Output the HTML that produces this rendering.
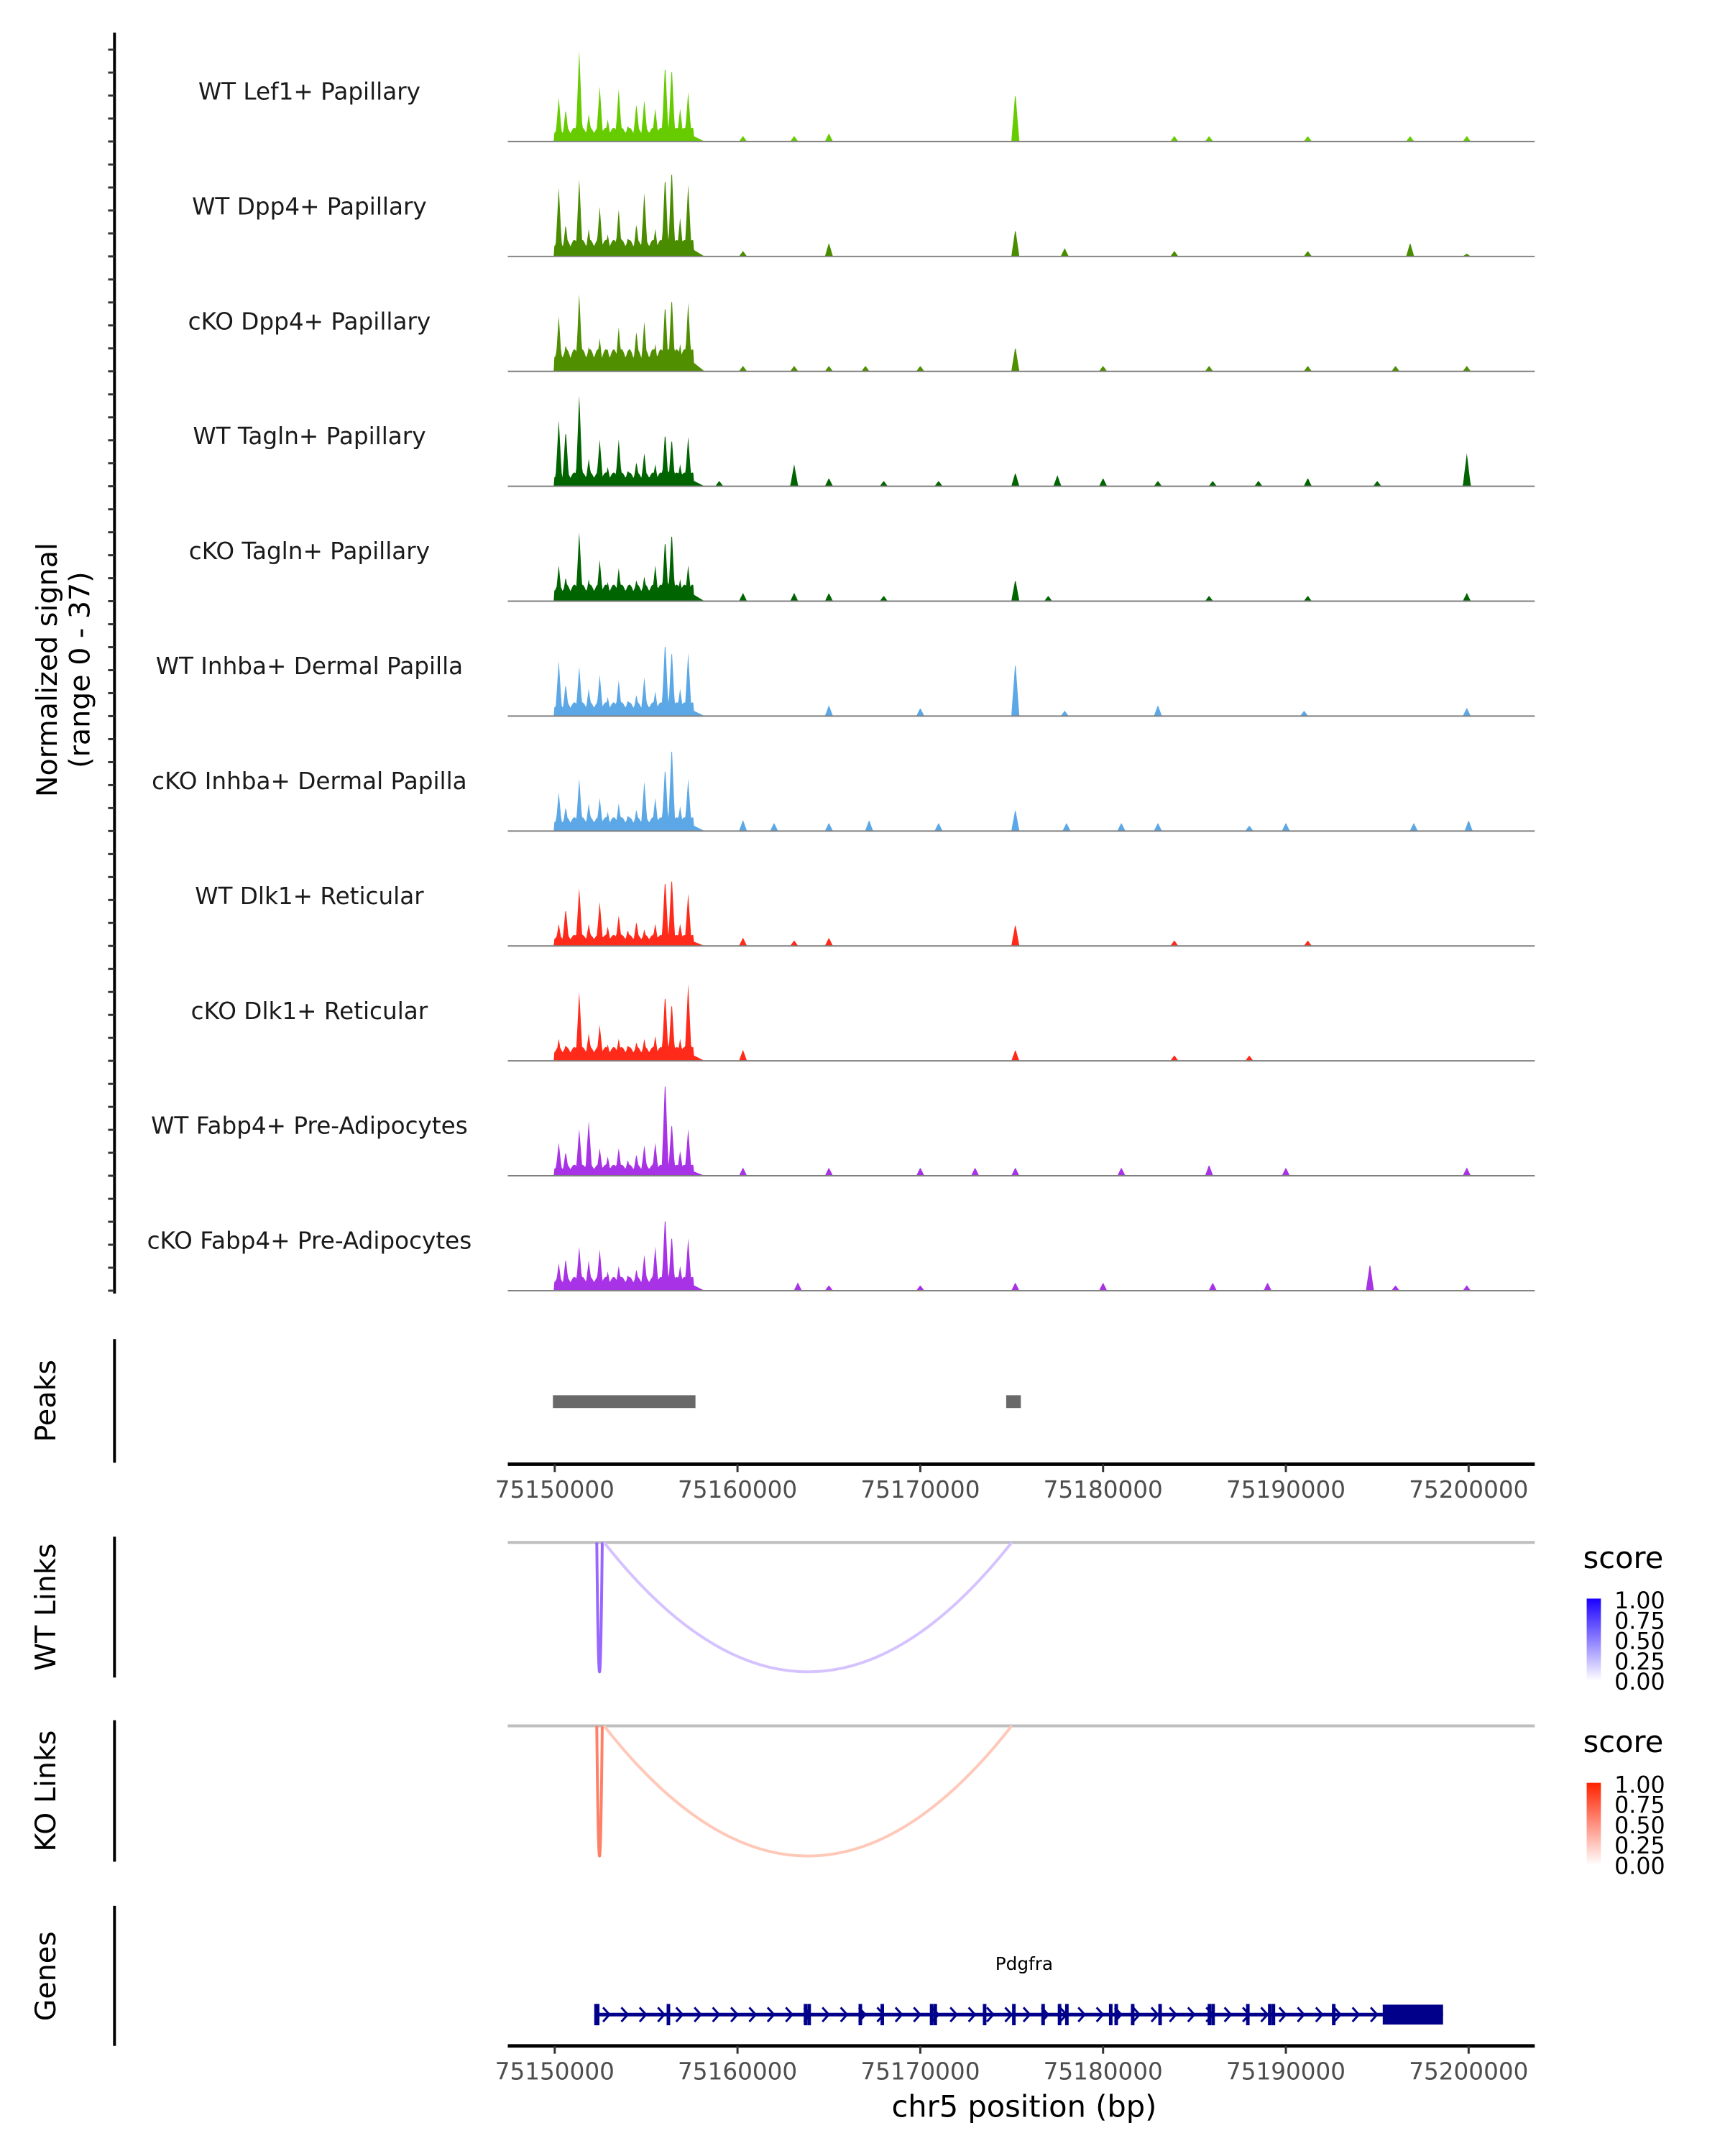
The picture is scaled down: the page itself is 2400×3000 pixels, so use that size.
<!DOCTYPE html>
<html><head><meta charset="utf-8"><style>
html,body{margin:0;padding:0;background:#fff}
svg{display:block}
text{font-family:"DejaVu Sans","Liberation Sans",sans-serif}
</style></head><body>
<svg id="chart" width="2400" height="3000" viewBox="0 0 2400 3000" xmlns="http://www.w3.org/2000/svg">
<g transform="scale(0.9895)">
<g id="tracks"></g>
<g id="peaks"></g>
<g id="links"></g>
<g id="genes"></g>
</g>
</svg>
<script>
const NS="http://www.w3.org/2000/svg";
const trackNames=["WT Lef1+ Papillary","WT Dpp4+ Papillary","cKO Dpp4+ Papillary","WT Tagln+ Papillary","cKO Tagln+ Papillary","WT Inhba+ Dermal Papilla","cKO Inhba+ Dermal Papilla","WT Dlk1+ Reticular","cKO Dlk1+ Reticular","WT Fabp4+ Pre-Adipocytes","cKO Fabp4+ Pre-Adipocytes"];
const trackColors=["#66cc00","#4a8c00","#4f8f00","#006400","#006400","#5ca8e6","#5ca8e6","#ff2a1a","#ff2a1a","#a832e6","#a832e6"];
const clusterPos=[0.22,0.6,1.34,1.86,2.46,2.9,3.5,4.0,4.47,4.9,5.5,6.04,6.4,6.86,7.3];
const clusterH=[
[16,12,33,10,20,8,19,6,14,15,12,29,28,12,18],
[25,12,28,10,18,8,17,7,12,23,10,30,33,14,26],
[20,10,28,9,12,8,16,8,15,18,10,25,28,10,25],
[24,21,33,10,17,7,17,6,9,12,8,20,18,8,18],
[13,9,25,8,15,7,12,6,8,9,13,23,26,8,13],
[20,12,18,10,15,7,13,6,8,14,9,28,25,10,23],
[14,9,19,10,12,7,10,6,8,18,12,24,32,9,19],
[8,14,21,8,16,7,11,6,9,6,8,25,26,8,19],
[8,6,25,10,13,6,8,6,7,8,9,25,22,8,28],
[12,9,17,20,10,7,10,6,8,11,12,36,20,9,17],
[10,12,16,11,15,7,9,6,8,13,16,28,21,9,19]];
const clusterBg=[5,6,8,5,6,5,5,4,5,4,5];
const farPeaks=[
[[10.3,2],[13.1,2],[15,3],[25.2,18],[33.9,2],[35.8,2],[41.2,2],[46.8,2],[49.9,2]],
[[10.3,2],[15,5],[25.2,10],[27.9,3],[33.9,2],[41.2,2],[46.8,5],[49.9,1]],
[[10.3,2],[13.1,2],[15,2],[17,2],[20,2],[25.2,9],[30,2],[35.8,2],[41.2,2],[46,2],[49.9,2]],
[[9,2],[13.1,8],[15,3],[18,2],[21,2],[25.2,5],[27.5,4],[30,3],[33,2],[36,2],[38.5,2],[41.2,3],[45,2],[49.9,12]],
[[10.3,3],[13.1,3],[15,3],[18,2],[25.2,8],[27,2],[35.8,2],[41.2,2],[49.9,3]],
[[15,4],[20,3],[25.2,20],[27.9,2],[33,4],[41,2],[49.9,3]],
[[10.3,4],[12,3],[15,3],[17.2,4],[21,3],[25.2,8],[28,3],[31,3],[33,3],[38,2],[40,3],[47,3],[50,4]],
[[10.3,3],[13.1,2],[15,3],[25.2,8],[33.9,2],[41.2,2]],
[[10.3,4],[25.2,4],[33.9,2],[38,2]],
[[10.3,3],[15,3],[20,3],[23,3],[25.2,3],[31,3],[35.8,4],[40,3],[49.9,3]],
[[13.3,3],[15,2],[20,2],[25.2,3],[30,3],[36,3],[39,3],[44.6,10],[46,2],[49.9,2]]];
const peakRegions=[[75149900,75157700],[75174700,75175500]];
const linkStarts=[75152300,75152700];
const linkEnds=[75152600,75175000];
const wtLinkColors=["#9966ff","#d5c2ff"];
const koLinkColors=["#ff8066","#ffc8b8"];
const exonPos=[75152240,75152330,75156200,75163700,75163900,75166700,75167900,75170600,75170800,75173500,75175100,75176700,75177600,75178000,75180400,75180700,75181600,75183100,75185800,75186000,75187900,75189100,75189300,75192600];
const utrBlock=[75195300,75198600];
const xTicks=[75150000,75160000,75170000,75180000,75190000,75200000];
const legendTicks=["1.00","0.75","0.50","0.25","0.00"];

const X0=714,X1=2158;
function xs(bp){return 780+(bp-75150000)*0.02570;}
function xk(kb){return xs(75150000+kb*1000);}
function mk(tag,attrs,parent){const e=document.createElementNS(NS,tag);for(const k in attrs)e.setAttribute(k,attrs[k]);parent.appendChild(e);return e;}
function txt(s,attrs,parent){const e=mk("text",attrs,parent);e.textContent=s;return e;}

const T=document.getElementById("tracks");
const base0=199,step=161.6,unit=3.87;
let ax=mk("line",{x1:161,y1:46,x2:161,y2:1819,stroke:"#000","stroke-width":4},T);


for(let i=0;i<11;i++){for(let m=0;m<5;m++){const y=base0+i*step-m*32.3;
 const t=mk("line",{x1:152,y1:y,x2:161,y2:y,stroke:"#333","stroke-width":3},T);
 
 }}
let yt=txt("Normalized signal",{x:0,y:0,"font-size":40,"text-anchor":"middle",transform:"translate(80,942) rotate(-90)"},T);


let yt2=txt("(range 0 - 37)",{x:0,y:0,"font-size":40,"text-anchor":"middle",transform:"translate(126,942) rotate(-90)"},T);



for(let i=0;i<11;i++){
 const b=base0+i*step;
 const g=mk("g",{},T);
 
 
 const lab=txt(trackNames[i],{x:435,y:b-59,"font-size":33,"text-anchor":"middle",fill:"#1a1a1a"},g);
 
 
 const pts=[];
 for(let k=-0.1;k<=54;k+=0.04){
  let v=0;
  if(k>=-0.05&&k<=7.6){v=clusterBg[i]*(0.6+0.4*Math.abs(Math.sin(k*7.3)));}
  else if(k>7.6&&k<8.2){v=clusterBg[i]*0.4*(8.2-k)/0.6;}
  for(let j=0;j<clusterPos.length;j++){const d=Math.abs(k-clusterPos[j]);const w=0.2;if(d<w)v=Math.max(v,clusterH[i][j]*(1-d/w));}
  for(const p of farPeaks[i]){const d=Math.abs(k-p[0]);const w=0.22;if(d<w)v=Math.max(v,p[1]*(1-d/w));}
  if(xk(k)>X1)break;
  pts.push([xk(k),b-v*unit]);
 }
 let d="M"+pts[0][0]+","+b;
 for(const p of pts)d+="L"+p[0].toFixed(1)+","+p[1].toFixed(1);
 d+="L"+pts[pts.length-1][0]+","+b+"Z";
 const a=mk("path",{d:d,fill:trackColors[i],stroke:"none"},g);
 
 
 const bl=mk("line",{x1:X0,y1:b,x2:X1,y2:b,stroke:"#7f7f7f","stroke-width":2},g);
 
 
}

const P=document.getElementById("peaks");
mk("line",{x1:161,y1:1883,x2:161,y2:2057,stroke:"#000","stroke-width":4},P);
let pl=txt("Peaks",{x:0,y:0,"font-size":40,"text-anchor":"middle",transform:"translate(78,1970) rotate(-90)"},P);


for(const r of peakRegions){const e=mk("rect",{x:xs(r[0]),y:1962,width:xs(r[1])-xs(r[0]),height:18,fill:"#696969"},P);
 
 }
function xAxis(y,parent){
 const l=mk("line",{x1:X0,y1:y,x2:X1,y2:y,stroke:"#000","stroke-width":5},parent);
 
 
 for(const t of xTicks){const x=xs(t);
  mk("line",{x1:x,y1:y,x2:x,y2:y+11,stroke:"#333","stroke-width":3},parent);
  const tl=txt(String(t),{x:x,y:y+47,"font-size":33,"text-anchor":"middle",fill:"#4d4d4d"},parent);
  
  }
}
xAxis(2059,P);

const L=document.getElementById("links");
function linkPanel(top,bottom,lineY,depthY,colors,label,lgTop,gradId,c1){
 mk("line",{x1:161,y1:top,x2:161,y2:bottom,stroke:"#000","stroke-width":4},L);
 const lb=txt(label,{x:0,y:0,"font-size":40,"text-anchor":"middle",transform:"translate(78,"+((top+bottom)/2)+") rotate(-90)"},L);
 
 
 mk("line",{x1:X0,y1:lineY,x2:X1,y2:lineY,stroke:"#bebebe","stroke-width":4},L);
 for(let j=0;j<linkStarts.length;j++){
  const xa=xs(linkStarts[j]),xb=xs(linkEnds[j]);
  const cy=lineY+2*(depthY-lineY);
  const p=mk("path",{d:"M"+xa+","+lineY+" Q"+((xa+xb)/2)+","+cy+" "+xb+","+lineY,fill:"none",stroke:colors[j],"stroke-width":4},L);
  
  
 }
 const defs=mk("defs",{},L);
 const gr=mk("linearGradient",{id:gradId,x1:0,y1:1,x2:0,y2:0},defs);
 mk("stop",{offset:"0","stop-color":"#ffffff"},gr);
 mk("stop",{offset:"1","stop-color":c1},gr);
 const st=txt("score",{x:2226,y:lgTop,"font-size":42,fill:"#000"},L);
 
 
 const cb=mk("rect",{x:2231,y:lgTop+43,width:20,height:116,fill:"url(#"+gradId+")"},L);
 
 
 legendTicks.forEach((s,k)=>{const y=lgTop+45+k*28.5;
  const t=txt(s,{x:2270,y:y+12,"font-size":32,fill:"#000"},L);
  
  });
}
linkPanel(2161,2359,2169,2351,wtLinkColors,"WT Links",2205,"gWT","#1a00ff");
linkPanel(2419,2618,2427,2610,koLinkColors,"KO Links",2464,"gKO","#ff2200");

const G=document.getElementById("genes");
mk("line",{x1:161,y1:2680,x2:161,y2:2877,stroke:"#000","stroke-width":4},G);
let gl=txt("Genes",{x:0,y:0,"font-size":40,"text-anchor":"middle",transform:"translate(78,2779) rotate(-90)"},G);


let gn=txt("Pdgfra",{x:1440,y:2770,"font-size":25,"text-anchor":"middle",fill:"#000"},G);


const gy=2833;
let intr=mk("line",{x1:xs(exonPos[0]),y1:gy,x2:xs(utrBlock[1]),y2:gy,stroke:"#00008b","stroke-width":5},G);


for(let kb=2.8;kb<45.3;kb+=1.0){const x=xk(kb);
 mk("path",{d:"M"+(x-4)+","+(gy-10)+" L"+(x+5)+","+gy+" L"+(x-4)+","+(gy+10),fill:"none",stroke:"#00008b","stroke-width":3},G);}
for(const e of exonPos){const x=xs(e);
 const r=mk("rect",{x:x-2,y:gy-15,width:5,height:30,fill:"#00008b"},G);
 
 }
let ub=mk("rect",{x:xs(utrBlock[0]),y:gy-14,width:xs(utrBlock[1])-xs(utrBlock[0]),height:28,fill:"#00008b"},G);


xAxis(2877,G);
let xt=txt("chr5 position (bp)",{x:1440,y:2977,"font-size":42,"text-anchor":"middle",fill:"#000"},G);


</script>
</body></html>
